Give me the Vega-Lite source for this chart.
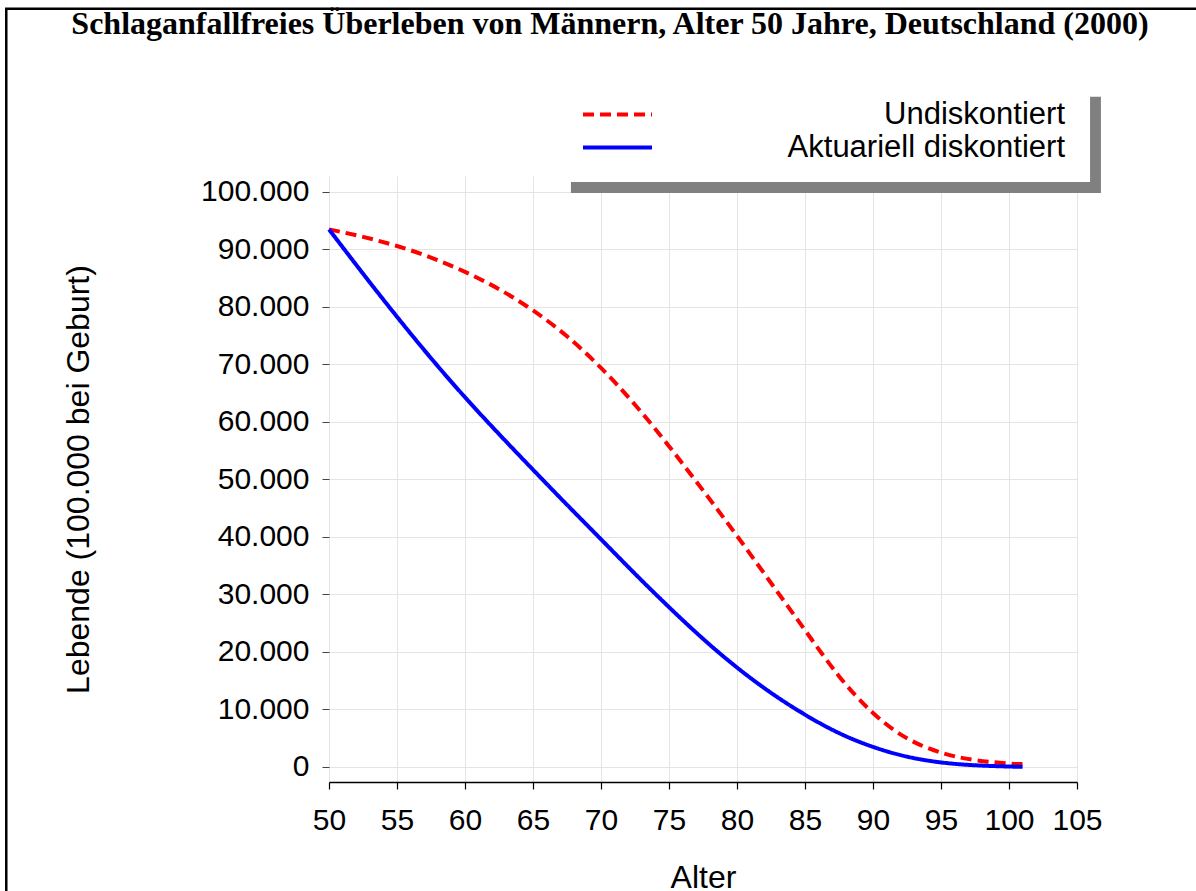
{
  "$schema": "https://vega.github.io/schema/vega-lite/v6.json",
  "width": 748,
  "height": 606,
  "autosize": {"type": "none"},
  "padding": {"left": 329, "top": 176, "right": 119, "bottom": 109},
  "background": "white",
  "title": {
    "text": "Schlaganfallfreies Überleben von Männern, Alter 50 Jahre, Deutschland (2000)",
    "font": "Liberation Serif",
    "fontSize": 32,
    "fontWeight": "bold",
    "color": "black",
    "anchor": "middle",
    "frame": "group",
    "dx": -93,
    "baseline": "alphabetic",
    "offset": -59
  },
  "config": {
    "view": {"stroke": null},
    "font": "Liberation Sans"
  },
  "layer": [
    {
      "data": {
        "values": [
          {"Alter": 50, "Lebende": 93500, "Serie": "Undiskontiert"},
          {"Alter": 52.5, "Lebende": 92200, "Serie": "Undiskontiert"},
          {"Alter": 55, "Lebende": 90600, "Serie": "Undiskontiert"},
          {"Alter": 57.5, "Lebende": 88600, "Serie": "Undiskontiert"},
          {"Alter": 60, "Lebende": 86100, "Serie": "Undiskontiert"},
          {"Alter": 62.5, "Lebende": 83100, "Serie": "Undiskontiert"},
          {"Alter": 65, "Lebende": 79400, "Serie": "Undiskontiert"},
          {"Alter": 67.5, "Lebende": 74900, "Serie": "Undiskontiert"},
          {"Alter": 70, "Lebende": 69400, "Serie": "Undiskontiert"},
          {"Alter": 72.5, "Lebende": 63000, "Serie": "Undiskontiert"},
          {"Alter": 75, "Lebende": 55800, "Serie": "Undiskontiert"},
          {"Alter": 77.5, "Lebende": 48100, "Serie": "Undiskontiert"},
          {"Alter": 80, "Lebende": 40200, "Serie": "Undiskontiert"},
          {"Alter": 82.5, "Lebende": 32000, "Serie": "Undiskontiert"},
          {"Alter": 85, "Lebende": 23800, "Serie": "Undiskontiert"},
          {"Alter": 87.5, "Lebende": 15800, "Serie": "Undiskontiert"},
          {"Alter": 90, "Lebende": 9400, "Serie": "Undiskontiert"},
          {"Alter": 92.5, "Lebende": 5000, "Serie": "Undiskontiert"},
          {"Alter": 95, "Lebende": 2500, "Serie": "Undiskontiert"},
          {"Alter": 97.5, "Lebende": 1200, "Serie": "Undiskontiert"},
          {"Alter": 100, "Lebende": 600, "Serie": "Undiskontiert"},
          {"Alter": 101, "Lebende": 500, "Serie": "Undiskontiert"},
          {"Alter": 50, "Lebende": 93500, "Serie": "Aktuariell diskontiert"},
          {"Alter": 52.5, "Lebende": 85800, "Serie": "Aktuariell diskontiert"},
          {"Alter": 55, "Lebende": 78300, "Serie": "Aktuariell diskontiert"},
          {"Alter": 57.5, "Lebende": 71100, "Serie": "Aktuariell diskontiert"},
          {"Alter": 60, "Lebende": 64300, "Serie": "Aktuariell diskontiert"},
          {"Alter": 62.5, "Lebende": 57900, "Serie": "Aktuariell diskontiert"},
          {"Alter": 65, "Lebende": 51700, "Serie": "Aktuariell diskontiert"},
          {"Alter": 67.5, "Lebende": 45600, "Serie": "Aktuariell diskontiert"},
          {"Alter": 70, "Lebende": 39600, "Serie": "Aktuariell diskontiert"},
          {"Alter": 72.5, "Lebende": 33600, "Serie": "Aktuariell diskontiert"},
          {"Alter": 75, "Lebende": 27800, "Serie": "Aktuariell diskontiert"},
          {"Alter": 77.5, "Lebende": 22300, "Serie": "Aktuariell diskontiert"},
          {"Alter": 80, "Lebende": 17300, "Serie": "Aktuariell diskontiert"},
          {"Alter": 82.5, "Lebende": 12900, "Serie": "Aktuariell diskontiert"},
          {"Alter": 85, "Lebende": 9100, "Serie": "Aktuariell diskontiert"},
          {"Alter": 87.5, "Lebende": 5900, "Serie": "Aktuariell diskontiert"},
          {"Alter": 90, "Lebende": 3500, "Serie": "Aktuariell diskontiert"},
          {"Alter": 92.5, "Lebende": 1800, "Serie": "Aktuariell diskontiert"},
          {"Alter": 95, "Lebende": 800, "Serie": "Aktuariell diskontiert"},
          {"Alter": 97.5, "Lebende": 300, "Serie": "Aktuariell diskontiert"},
          {"Alter": 100, "Lebende": 80, "Serie": "Aktuariell diskontiert"},
          {"Alter": 101, "Lebende": 30, "Serie": "Aktuariell diskontiert"}
        ]
      },
      "mark": {"type": "line", "interpolate": "natural", "strokeWidth": 4},
      "encoding": {
        "x": {
          "field": "Alter",
          "type": "quantitative",
          "scale": {"domain": [50, 105], "nice": false, "zero": false},
          "axis": {
            "values": [50, 55, 60, 65, 70, 75, 80, 85, 90, 95, 100, 105],
            "title": "Alter",
            "titleFont": "Liberation Sans",
            "titleFontSize": 32,
            "titleFontWeight": "normal",
            "titleColor": "black",
            "titleBaseline": "alphabetic",
            "titleAlign": "center",
            "titleX": 374,
            "titleY": 105,
            "labelFont": "Liberation Sans",
            "labelFontSize": 30,
            "labelColor": "black",
            "labelPadding": 16,
            "labelFlush": false,
            "labelOverlap": false,
            "tickSize": 7,
            "tickColor": "black",
            "tickWidth": 1.2,
            "domainColor": "black",
            "domainWidth": 1.5,
            "gridColor": "#e4e4e4",
            "gridWidth": 1
          }
        },
        "y": {
          "field": "Lebende",
          "type": "quantitative",
          "scale": {"domain": [-2610, 102780], "nice": false, "zero": false},
          "axis": {
            "values": [0, 10000, 20000, 30000, 40000, 50000, 60000, 70000, 80000, 90000, 100000],
            "labelExpr": "replace(format(datum.value, ','), ',', '.')",
            "domain": false,
            "title": "Lebende (100.000 bei Geburt)",
            "titleFont": "Liberation Sans",
            "titleFontSize": 32,
            "titleFontWeight": "normal",
            "titleColor": "black",
            "titleAngle": 270,
            "titleBaseline": "alphabetic",
            "titleAlign": "center",
            "titleX": -241,
            "titleY": 303,
            "labelFont": "Liberation Sans",
            "labelFontSize": 30,
            "labelColor": "black",
            "labelPadding": 13,
            "labelFlush": false,
            "labelOverlap": false,
            "tickSize": 7,
            "tickColor": "#444444",
            "gridColor": "#e4e4e4",
            "gridWidth": 1
          }
        },
        "color": {
          "field": "Serie",
          "type": "nominal",
          "scale": {"domain": ["Undiskontiert", "Aktuariell diskontiert"], "range": ["#ff0000", "#0000ff"]},
          "legend": {
            "orient": "none",
            "legendX": 252,
            "legendY": -77,
            "title": null,
            "padding": 0,
            "labelAlign": "right",
            "labelOffset": 411,
            "labelFont": "Liberation Sans",
            "labelFontSize": 31,
            "labelColor": "black",
            "labelLimit": 0,
            "symbolType": "stroke",
            "symbolSize": 4761,
            "symbolStrokeWidth": 4,
            "clipHeight": 31,
            "rowPadding": 1
          }
        },
        "strokeDash": {
          "field": "Serie",
          "type": "nominal",
          "scale": {"domain": ["Undiskontiert", "Aktuariell diskontiert"], "range": [[11, 6], [1, 0]]},
          "legend": {
            "orient": "none",
            "legendX": 252,
            "legendY": -77,
            "title": null,
            "padding": 0,
            "labelAlign": "right",
            "labelOffset": 411,
            "labelFont": "Liberation Sans",
            "labelFontSize": 31,
            "labelColor": "black",
            "labelLimit": 0,
            "symbolType": "stroke",
            "symbolSize": 4761,
            "symbolStrokeWidth": 4,
            "clipHeight": 31,
            "rowPadding": 1
          }
        }
      }
    },
    {
      "data": {"values": [{}]},
      "mark": {"type": "rect", "filled": false, "stroke": "black", "strokeWidth": 2.5, "clip": false},
      "encoding": {
        "x": {"datum": 26.27, "type": "quantitative"},
        "x2": {"datum": 118},
        "y": {"datum": 131880, "type": "quantitative"},
        "y2": {"datum": -32000}
      }
    },
    {
      "data": {"values": [{}]},
      "mark": {"type": "rect", "fill": "#808080", "clip": false},
      "encoding": {
        "x": {"datum": 67.79, "type": "quantitative"},
        "x2": {"datum": 106.76},
        "y": {"datum": 116570, "type": "quantitative"},
        "y2": {"datum": 99830}
      }
    },
    {
      "data": {"values": [{}]},
      "mark": {"type": "rect", "fill": "white", "clip": false},
      "encoding": {
        "x": {"datum": 66.98, "type": "quantitative"},
        "x2": {"datum": 105.96},
        "y": {"datum": 118490, "type": "quantitative"},
        "y2": {"datum": 101740}
      }
    }
  ]
}
